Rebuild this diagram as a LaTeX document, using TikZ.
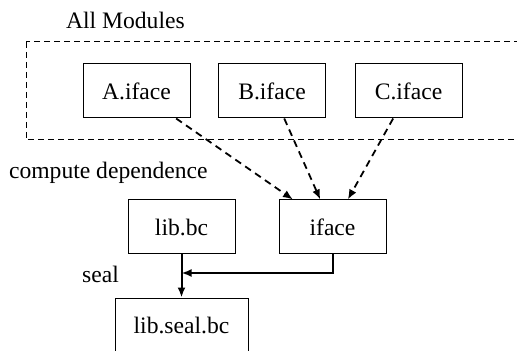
\documentclass[tikz,border=0pt]{standalone}
\usepackage{fontspec}
\setmainfont{Liberation Serif}
\usetikzlibrary{arrows.meta}

\begin{document}
\begin{tikzpicture}[x=0.5pt, y=-0.5pt,
    font=\fontsize{11.8}{14}\selectfont,
    >={Latex[length=5pt,width=4pt]},
    file/.style={draw, line width=0.5pt, minimum width=53.5pt, minimum height=27pt, inner sep=0pt},
    dep/.style={->, line width=0.9pt, dash pattern=on 3.5pt off 2.5pt}]
    \useasboundingbox (0,0) rectangle (517,351);

    % Module interfaces
    \draw[line width=0.5pt, dash pattern=on 3pt off 2pt] (26,42) rectangle (540,140);
    \node[anchor=west] (allmods) at (59,20) {All Modules};
    \node[file] (A) at (136.5,91) {A.iface};
    \node[file] (B) at (272,91) {B.iface};
    \node[file] (C) at (408.5,91) {C.iface};

    % Dependence
    \node[anchor=west] (compute) at (2,173) {compute dependence};
    \node[file] (lib) at (181.5,227) {lib.bc};
    \node[file] (iface) at (332.5,227) {iface};
    \draw[dep] (A) -- (iface);
    \draw[dep] (B) -- (iface);
    \draw[dep] (C) -- (iface);

    % Sealing
    \node[file, minimum width=66.5pt] (libseal) at (181.5,325) {lib.seal.bc};
    \node[anchor=east] (seal) at (126,274) {seal};
    \coordinate (join) at (181.5,273);
    \draw[->, line width=1pt] (lib) -- (libseal);
    \draw[->, line width=1pt] (iface.south) |- (join);
\end{tikzpicture}
\end{document}
